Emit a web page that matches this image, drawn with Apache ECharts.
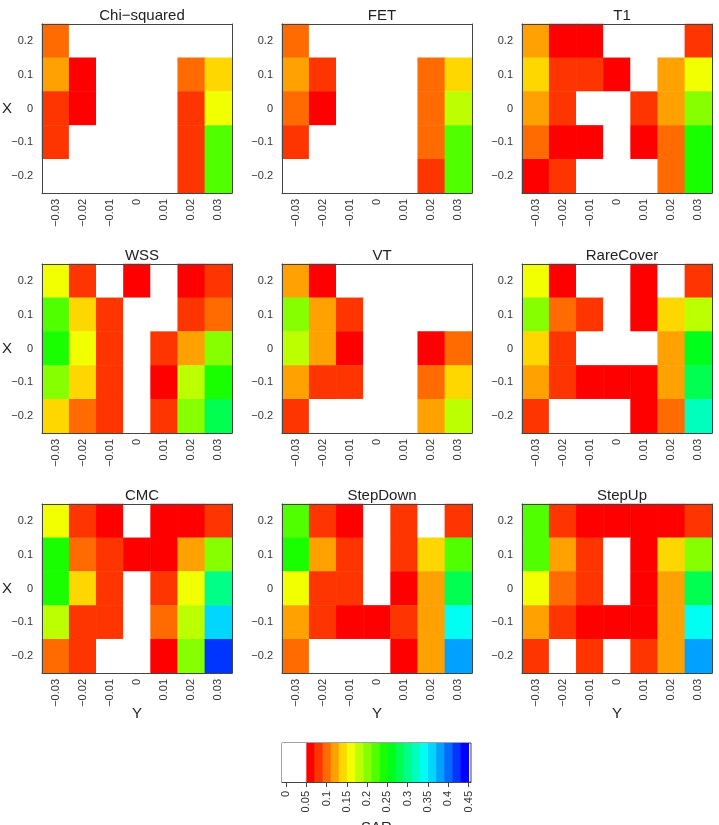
<!DOCTYPE html>
<html>
<head>
<meta charset="utf-8">
<script src="https://cdn.jsdelivr.net/npm/echarts@6/dist/echarts.min.js"></script>
<style>
  html, body { margin: 0; padding: 0; background: #fff; }
  #main { width: 719px; height: 825px; }
</style>
</head>
<body>
<div id="main"></div>
<script>
// horizontal axis (Y) and vertical axis (X, listed top to bottom)
const yCats = ['-0.03', '-0.02', '-0.01', '0', '0.01', '0.02', '0.03'];
const xCats = ['0.2', '0.1', '0', '-0.1', '-0.2'];
const methods = ['Chi-squared', 'FET', 'T1', 'WSS', 'VT', 'RareCover', 'CMC', 'StepDown', 'StepUp'];

// SAR per cell, rows = X from 0.2 down to -0.2, cols = Y from -0.03 to 0.03 (0 = white)
const chiSquared = [
  [0.10, 0, 0, 0, 0, 0, 0],
  [0.12, 0.06, 0, 0, 0, 0.10, 0.14],
  [0.08, 0.06, 0, 0, 0, 0.08, 0.16],
  [0.08, 0, 0, 0, 0, 0.08, 0.22],
  [0, 0, 0, 0, 0, 0.08, 0.22]
];
const fet = [
  [0.10, 0, 0, 0, 0, 0, 0],
  [0.12, 0.08, 0, 0, 0, 0.10, 0.14],
  [0.10, 0.06, 0, 0, 0, 0.10, 0.18],
  [0.08, 0, 0, 0, 0, 0.10, 0.22],
  [0, 0, 0, 0, 0, 0.08, 0.22]
];
const t1 = [
  [0.12, 0.06, 0.06, 0, 0, 0, 0.08],
  [0.14, 0.08, 0.08, 0.06, 0, 0.12, 0.16],
  [0.12, 0.08, 0, 0, 0.08, 0.12, 0.20],
  [0.10, 0.06, 0.06, 0, 0.06, 0.10, 0.24],
  [0.06, 0.08, 0, 0, 0, 0.10, 0.24]
];
const wss = [
  [0.16, 0.08, 0, 0.06, 0, 0.06, 0.08],
  [0.22, 0.14, 0.08, 0, 0, 0.08, 0.10],
  [0.24, 0.16, 0.08, 0, 0.08, 0.12, 0.20],
  [0.20, 0.14, 0.08, 0, 0.06, 0.18, 0.24],
  [0.14, 0.10, 0.08, 0, 0.08, 0.20, 0.28]
];
const vt = [
  [0.12, 0.06, 0, 0, 0, 0, 0],
  [0.20, 0.12, 0.08, 0, 0, 0, 0],
  [0.18, 0.12, 0.06, 0, 0, 0.06, 0.10],
  [0.12, 0.08, 0.08, 0, 0, 0.10, 0.14],
  [0.08, 0, 0, 0, 0, 0.12, 0.18]
];
const rareCover = [
  [0.16, 0.06, 0, 0, 0.06, 0, 0.08],
  [0.20, 0.10, 0.08, 0, 0.06, 0.14, 0.18],
  [0.14, 0.08, 0, 0, 0, 0.12, 0.26],
  [0.12, 0.08, 0.06, 0.06, 0.06, 0.12, 0.28],
  [0.08, 0, 0, 0, 0.06, 0.10, 0.32]
];
const cmc = [
  [0.16, 0.08, 0.06, 0, 0.06, 0.06, 0.08],
  [0.24, 0.10, 0.08, 0.06, 0.06, 0.12, 0.20],
  [0.24, 0.14, 0.08, 0, 0.08, 0.16, 0.30],
  [0.18, 0.08, 0.08, 0, 0.10, 0.18, 0.36],
  [0.10, 0.08, 0, 0, 0.06, 0.20, 0.42]
];
const stepDown = [
  [0.22, 0.08, 0.06, 0, 0.08, 0, 0.08],
  [0.24, 0.12, 0.08, 0, 0.08, 0.14, 0.22],
  [0.16, 0.08, 0.08, 0, 0.06, 0.12, 0.28],
  [0.12, 0.08, 0.06, 0.06, 0.08, 0.12, 0.34],
  [0.10, 0, 0, 0, 0.06, 0.12, 0.38]
];
const stepUp = [
  [0.22, 0.08, 0.06, 0.06, 0.06, 0.06, 0.08],
  [0.22, 0.12, 0.08, 0, 0.06, 0.14, 0.20],
  [0.16, 0.10, 0.08, 0, 0.06, 0.12, 0.28],
  [0.12, 0.08, 0.06, 0.06, 0.06, 0.12, 0.34],
  [0.08, 0, 0.08, 0, 0.08, 0.12, 0.38]
];
const panels = [chiSquared, fet, t1, wss, vt, rareCover, cmc, stepDown, stepUp];

// colour scale: white below 0.05, then 20 rainbow bins of 0.02
const breaks = [0.05, 0.07, 0.09, 0.11, 0.13, 0.15, 0.17, 0.19, 0.21, 0.23, 0.25,
  0.27, 0.29, 0.31, 0.33, 0.35, 0.37, 0.39, 0.41, 0.43, 0.45];
const palette = ['#FF0000', '#FF3500', '#FF6B00', '#FFA100', '#FFD700', '#F2FF00', '#BCFF00',
  '#86FF00', '#50FF00', '#1AFF00', '#00FF1A', '#00FF50', '#00FF86', '#00FFBC', '#00FFF2',
  '#00D7FF', '#00A1FF', '#006BFF', '#0035FF', '#0000FF'];
const legendTicks = [0, 0.05, 0.1, 0.15, 0.2, 0.25, 0.3, 0.35, 0.4, 0.45];
const legendMin = -0.01;

const font = 'Liberation Sans, Arial, sans-serif';
const minus = (s) => String(s).replace('-', '\u2212');

const chart = echarts.init(document.getElementById('main'));

const lefts = [42, 282, 522];
const tops = [24, 264, 504];
const gw = 190, gh = 169;

const grids = [], xAxes = [], yAxes = [], series = [], titles = [];
const pieces = [{ lt: breaks[0], color: '#FFFFFF' }];
palette.forEach((c, i) => pieces.push({ gte: breaks[i], lt: breaks[i + 1], color: c }));

panels.forEach((m, p) => {
  const col = p % 3, row = Math.floor(p / 3);
  grids.push({ left: lefts[col], top: tops[row], width: gw, height: gh, outerBoundsMode: 'none', containLabel: false });
  titles.push({
    text: minus(methods[p]),
    left: lefts[col] + gw / 2,
    top: tops[row] - 21,
    textAlign: 'center',
    textStyle: { fontFamily: font, fontSize: 15, fontWeight: 'normal', color: '#222' }
  });
  const axisLine = { show: true, lineStyle: { color: '#444', width: 1 } };
  xAxes.push({
    type: 'category', gridIndex: p, data: yCats, position: 'bottom', z: 10,
    name: row === 2 ? 'Y' : '', nameLocation: 'middle', nameGap: 33, nameMoveOverlap: false,
    nameTextStyle: { fontFamily: font, fontSize: 15, color: '#222' },
    axisLine, axisTick: { alignWithLabel: true, length: 4, lineStyle: { color: '#444' } },
    axisLabel: { rotate: 90, margin: 6, fontFamily: font, fontSize: 11, color: '#333', formatter: minus },
    splitLine: { show: false }
  });
  xAxes.push({
    type: 'category', gridIndex: p, data: yCats, position: 'top', z: 10,
    axisLine, axisTick: { show: false }, axisLabel: { show: false }
  });
  yAxes.push({
    type: 'category', gridIndex: p, data: xCats, inverse: true, position: 'left', z: 10,
    name: col === 0 ? 'X' : '', nameLocation: 'middle', nameGap: 30, nameRotate: 0, nameMoveOverlap: false,
    nameTextStyle: { fontFamily: font, fontSize: 15, color: '#222' },
    axisLine, axisTick: { alignWithLabel: true, length: 5, lineStyle: { color: '#444' } },
    axisLabel: { margin: 9, fontFamily: font, fontSize: 11, color: '#333', formatter: minus },
    splitLine: { show: false }
  });
  yAxes.push({
    type: 'category', gridIndex: p, data: xCats, inverse: true, position: 'right', z: 10,
    axisLine, axisTick: { show: false }, axisLabel: { show: false }
  });
  const data = [];
  m.forEach((r, ri) => r.forEach((v, ci) => data.push([ci, ri, v])));
  series.push({
    type: 'heatmap', name: methods[p], xAxisIndex: 2 * p, yAxisIndex: 2 * p,
    data, emphasis: { disabled: true }, itemStyle: { borderWidth: 0 }
  });
});

// colour bar as its own grid
const cb = panels.length;
grids.push({
  left: 282, top: 743, width: 189, height: 39, show: true, borderColor: '#444', borderWidth: 1,
  outerBoundsMode: 'none', containLabel: false
});
xAxes.push({
  type: 'value', gridIndex: cb, min: legendMin, max: 0.456, position: 'bottom', z: 10,
  name: 'SAR', nameLocation: 'middle', nameGap: 38, nameMoveOverlap: false,
  nameTextStyle: { fontFamily: font, fontSize: 15, color: '#222' },
  axisLine: { show: true, lineStyle: { color: '#444' } },
  axisTick: { show: true, length: 5, customValues: legendTicks, lineStyle: { color: '#444' } },
  axisLabel: { rotate: 90, margin: 9, customValues: legendTicks, fontFamily: font, fontSize: 11, color: '#333' },
  splitLine: { show: false }
});
yAxes.push({ type: 'value', gridIndex: cb, min: 0, max: 1, show: false, splitLine: { show: false } });
const barData = [[legendMin, breaks[0], '#FFFFFF']];
palette.forEach((c, i) => barData.push([breaks[i], breaks[i + 1], c]));
series.push({
  type: 'custom', coordinateSystem: 'cartesian2d',
  xAxisIndex: 2 * cb, yAxisIndex: 2 * cb,
  data: barData.map(d => [d[0], d[1]]),
  encode: { x: [0, 1] },
  renderItem: (params, api) => {
    const a = api.coord([api.value(0), 1]);
    const b = api.coord([api.value(1), 0]);
    return {
      type: 'rect',
      shape: { x: a[0], y: a[1], width: b[0] - a[0] + 0.5, height: b[1] - a[1] },
      style: { fill: barData[params.dataIndex][2] }
    };
  }
});

chart.setOption({
  animation: false,
  backgroundColor: '#fff',
  title: titles,
  grid: grids,
  xAxis: xAxes,
  yAxis: yAxes,
  visualMap: {
    type: 'piecewise', show: false, dimension: 2,
    seriesIndex: panels.map((_, i) => i), pieces
  },
  series
});
</script>
</body>
</html>
